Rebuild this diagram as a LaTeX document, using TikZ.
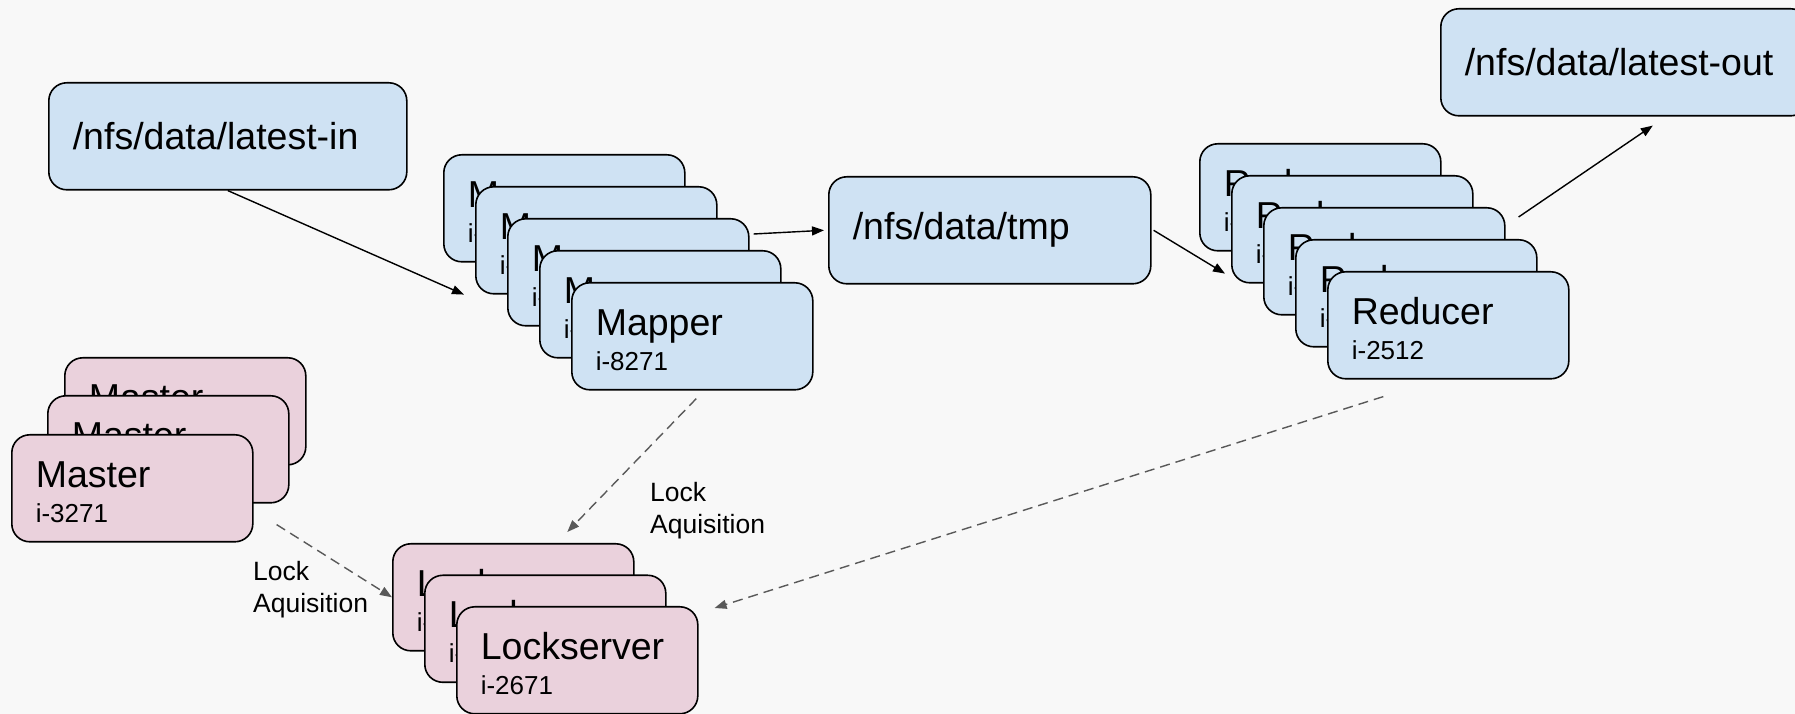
\documentclass[tikz,border=0pt]{standalone}
\usepackage{fontspec}
\setmainfont{Liberation Sans}
\usetikzlibrary{arrows.meta}

\definecolor{jobblue}{HTML}{CFE2F3}
\definecolor{lockpink}{HTML}{EAD1DC}
\definecolor{lockgray}{HTML}{595959}
\definecolor{paper}{HTML}{F8F8F8}

\newcommand{\titlesize}{\fontsize{37.5}{35}\selectfont\rule{0pt}{33pt}}
\newcommand{\idsize}{\fontsize{26}{35}\selectfont}

\tikzset{
  box/.style={draw=black, line width=1.6pt, rounded corners=18pt, anchor=north west,
    inner xsep=24pt, inner ysep=0pt, minimum height=107pt, align=left},
  stackbox/.style={box, text width=193pt, font=\idsize},
  bluebox/.style={stackbox, fill=jobblue},
  pinkbox/.style={stackbox, fill=lockpink},
  pathbox/.style={box, fill=jobblue, font=\fontsize{37.5}{35}\selectfont},
  flow/.style={-{Triangle[length=12pt,width=9pt]}, line width=1.4pt},
  lockflow/.style={-{Triangle[length=12pt,width=9pt]}, lockgray, line width=1.4pt,
    dash pattern=on 10pt off 6pt},
  locklabel/.style={anchor=north west, inner sep=0pt, align=left,
    font=\fontsize{26.5}{32}\selectfont}
}

\begin{document}
\begin{tikzpicture}[x=1pt, y=1pt]

    \useasboundingbox (0,0) rectangle (1795,714);
    \fill[paper] (0,0) rectangle (1795,714);

    % shared directories
    \node[pathbox, text width=310pt] (latestin) at (48,632) {/nfs/data/latest-in};
    \node[pathbox, text width=274pt] (tmp) at (828,538) {/nfs/data/tmp};
    \node[pathbox, text width=320pt] (latestout) at (1440,706) {/nfs/data/latest-out};

    % worker stacks
    \foreach \i in {0,...,4}
    \node[bluebox] (mapper\i) at ({443+32*\i},{560-32*\i}) {{\titlesize Mapper}\\i-8271};
    \foreach \i in {0,...,4}
    \node[bluebox] (reducer\i) at ({1199+32*\i},{571-32*\i}) {{\titlesize Reducer}\\i-2512};
    \foreach \i in {0,...,2}
    \node[pinkbox] (lock\i) at ({392+32*\i},{171-31.5*\i}) {{\titlesize Lockserver}\\i-2671};

    \node[pinkbox] (master0) at (64,357) {{\titlesize Master}\\i-3271};
    \node[pinkbox] (master1) at (47,319) {{\titlesize Master}\\i-3271};
    \node[pinkbox] (master2) at (11,280) {{\titlesize Master}\\i-3271};

    % data flow
    \draw[flow] (latestin.south) -- ([xshift=-11pt]mapper1.south west);
    \draw[flow] ([xshift=4pt,yshift=-16pt]mapper2.north east) -- ([xshift=-4pt]tmp.west);
    \draw[flow] ([xshift=2pt]tmp.east) -- ([xshift=-6pt,yshift=10pt]reducer1.south west);
    \draw[flow] ([xshift=13pt,yshift=-10pt]reducer2.north east) -- ([xshift=28pt,yshift=-9pt]latestout.south);

    % locking
    \draw[lockflow] ([xshift=4pt,yshift=-8pt]mapper4.south) -- ([xshift=54pt,yshift=11pt]lock0.north);
    \draw[lockflow] ([xshift=23pt,yshift=18pt]master2.south east) -- (lock0.west);
    \draw[lockflow] ([xshift=-65pt,yshift=-17pt]reducer4.south) -- ([xshift=16pt,yshift=-2pt]lock2.north east);

    \node[locklabel] (lockmap) at (650,232) {Lock\\Aquisition};
    \node[locklabel] (lockmaster) at (253,153) {Lock\\Aquisition};

\end{tikzpicture}
\end{document}
